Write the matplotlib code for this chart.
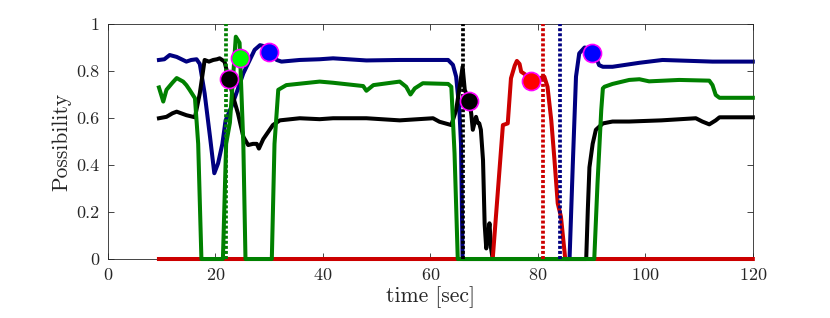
import matplotlib
matplotlib.use("Agg")
import matplotlib.pyplot as plt

# series (time in sec, possibility)
blue_t = [9.5, 10.5, 11.5, 12.8, 14.6, 15.5, 16.5, 17.1, 18.0, 19.0, 19.8, 20.5, 21.3, 21.9, 23.0,
          23.9, 25.2, 26.4, 27.3, 28.3, 29.2, 30.5, 31.4, 32.3, 35.7, 39.4, 41.9, 48.1, 54.3, 63.3,
          64.2, 64.8, 65.4, 65.7, 66.0, 85.9, 86.5, 87.1, 87.7, 88.7, 89.5, 90.5, 91.4, 92.1, 93.9,
          98.9, 103.2, 112.5, 120]
blue_y = [0.847, 0.85, 0.868, 0.86, 0.84, 0.847, 0.85, 0.83, 0.705, 0.52, 0.365, 0.407, 0.49, 0.59, 0.648,
          0.705, 0.79, 0.847, 0.89, 0.91, 0.905, 0.885, 0.847, 0.84, 0.847, 0.85, 0.854, 0.845, 0.847, 0.847,
          0.826, 0.776, 0.634, 0.49, 0.0, 0.0, 0.4, 0.776, 0.875, 0.90, 0.895, 0.875, 0.825, 0.818, 0.818,
          0.835, 0.847, 0.84, 0.84]

green_t = [9.5, 10.3, 10.9, 12.0, 12.8, 14.0, 14.6, 15.2, 16.2, 16.8, 17.4, 21.4, 22.0, 22.7, 23.3,
           23.8, 24.5, 25.2, 25.6, 30.5, 31.0, 31.7, 33.2, 39.4, 41.9, 47.5, 48.1, 49.4, 54.3, 55.5,
           56.3, 57.1, 58.6, 63.3, 63.9, 64.5, 65.1, 90.5, 91.1, 91.8, 92.1, 92.4, 93.9, 97.0, 98.9,
           100.7, 106.3, 111.9, 112.5, 113.1, 113.8, 120]
green_y = [0.73, 0.67, 0.72, 0.75, 0.77, 0.755, 0.74, 0.72, 0.684, 0.49, 0, 0, 0.49, 0.58, 0.776,
           0.946, 0.92, 0.49, 0, 0, 0.49, 0.72, 0.74, 0.755, 0.75, 0.736, 0.716, 0.74, 0.755, 0.733,
           0.70, 0.726, 0.748, 0.745, 0.733, 0.45, 0, 0, 0.32, 0.634, 0.726, 0.733, 0.745, 0.762, 0.765,
           0.756, 0.762, 0.759, 0.74, 0.698, 0.686, 0.686]

black_t = [9.5, 10.9, 12.0, 12.8, 14.6, 16.2, 17.1, 18.0, 18.8, 19.6, 20.3, 20.8, 21.7, 22.5, 23.3,
           24.2, 25.2, 26.1, 27.0, 27.7, 28.1, 28.9, 30.7, 32.0, 35.7, 39.4, 41.9, 48.1, 54.3, 60.5,
           61.7, 63.9, 64.8, 65.5, 66.0, 66.4, 67.2, 67.6, 67.9, 68.5, 68.8, 69.1, 69.4, 69.8, 70.1,
           70.4, 70.7, 71.0, 71.3, 71.6, 89.0, 89.3, 89.6, 90.2, 90.8, 92.1, 93.9, 97.0, 103, 109.4,
           110.6, 111.9, 113.1, 113.8, 120]
black_y = [0.599, 0.605, 0.62, 0.627, 0.612, 0.603, 0.705, 0.847, 0.84, 0.847, 0.85, 0.854, 0.84, 0.766, 0.69,
           0.62, 0.52, 0.485, 0.49, 0.49, 0.47, 0.51, 0.57, 0.59, 0.599, 0.595, 0.599, 0.599, 0.59, 0.599,
           0.584, 0.57, 0.634, 0.74, 0.818, 0.72, 0.674, 0.62, 0.55, 0.605, 0.58, 0.577, 0.55, 0.42, 0.15,
           0.045, 0.09, 0.152, 0.045, 0.0, 0.0, 0.21, 0.39, 0.49, 0.55, 0.577, 0.585, 0.585, 0.59, 0.599,
           0.585, 0.573, 0.59, 0.603, 0.603]

red_t = [9.5, 71.6, 73.5, 74.4, 75.0, 75.7, 76.1, 76.6, 76.9, 77.8, 78.7, 80.3, 81.2, 81.8, 82.5,
         83.1, 83.7, 84.3, 85.1, 120]
red_y = [0, 0, 0.57, 0.577, 0.769, 0.823, 0.843, 0.83, 0.797, 0.783, 0.757, 0.769, 0.776, 0.733, 0.59,
         0.42, 0.237, 0.18, 0, 0]

# vertical dotted event lines
event_t = [21.9, 66.0, 80.9, 84.1]
event_col = ['#008000', 'black', '#cc0000', '#000080']

# circle markers
mark_t = [22.6, 24.5, 29.9, 67.2, 78.7, 90.0]
mark_y = [0.766, 0.856, 0.88, 0.674, 0.757, 0.875]
mark_col = ['black', '#00ff00', '#0000ff', 'black', '#ff0000', '#0000ff']

plt.rcParams['font.family'] = 'cmr10'
plt.rcParams['mathtext.fontset'] = 'cm'
plt.rcParams['axes.formatter.use_mathtext'] = True

fig = plt.figure(figsize=(8.3, 3.18), dpi=100)
ax = fig.add_axes([0.13, 0.1855, 0.777, 0.739])

lw = 2.9
ax.plot(blue_t, blue_y, color='#000080', lw=lw, clip_on=False, zorder=2)
ax.plot(black_t, black_y, color='black', lw=lw, clip_on=False, zorder=3)
ax.plot(red_t, red_y, color='#cc0000', lw=lw, clip_on=False, zorder=4)
ax.plot(green_t, green_y, color='#008000', lw=lw, clip_on=False, zorder=5)

for t, c in zip(event_t, event_col):
    ax.plot([t, t], [0, 1], color=c, lw=2.7, ls=(0, (0.8, 0.55)), clip_on=False, zorder=6)

for t, y, c in zip(mark_t, mark_y, mark_col):
    ax.plot(t, y, 'o', ms=13, mfc=c, mec='#ff00ff', mew=1.2, zorder=7)

ax.set_xlim(0, 120)
ax.set_ylim(0, 1)
ax.set_xticks([0, 20, 40, 60, 80, 100, 120])
ax.set_yticks([0, 0.2, 0.4, 0.6, 0.8, 1])
ax.set_yticklabels(['0', '0.2', '0.4', '0.6', '0.8', '1'])
ax.tick_params(direction='in', length=4.5, width=0.6, top=True, right=True,
               labelsize=13, colors='#262626', pad=6)
for s in ax.spines.values():
    s.set_color('#262626')
    s.set_linewidth(0.6)
ax.set_xlabel('time [sec]', fontsize=15.5, color='#262626', labelpad=2)
ax.set_ylabel('Possibility', fontsize=15.5, color='#262626', labelpad=4)

fig.savefig('out.png', dpi=100)
